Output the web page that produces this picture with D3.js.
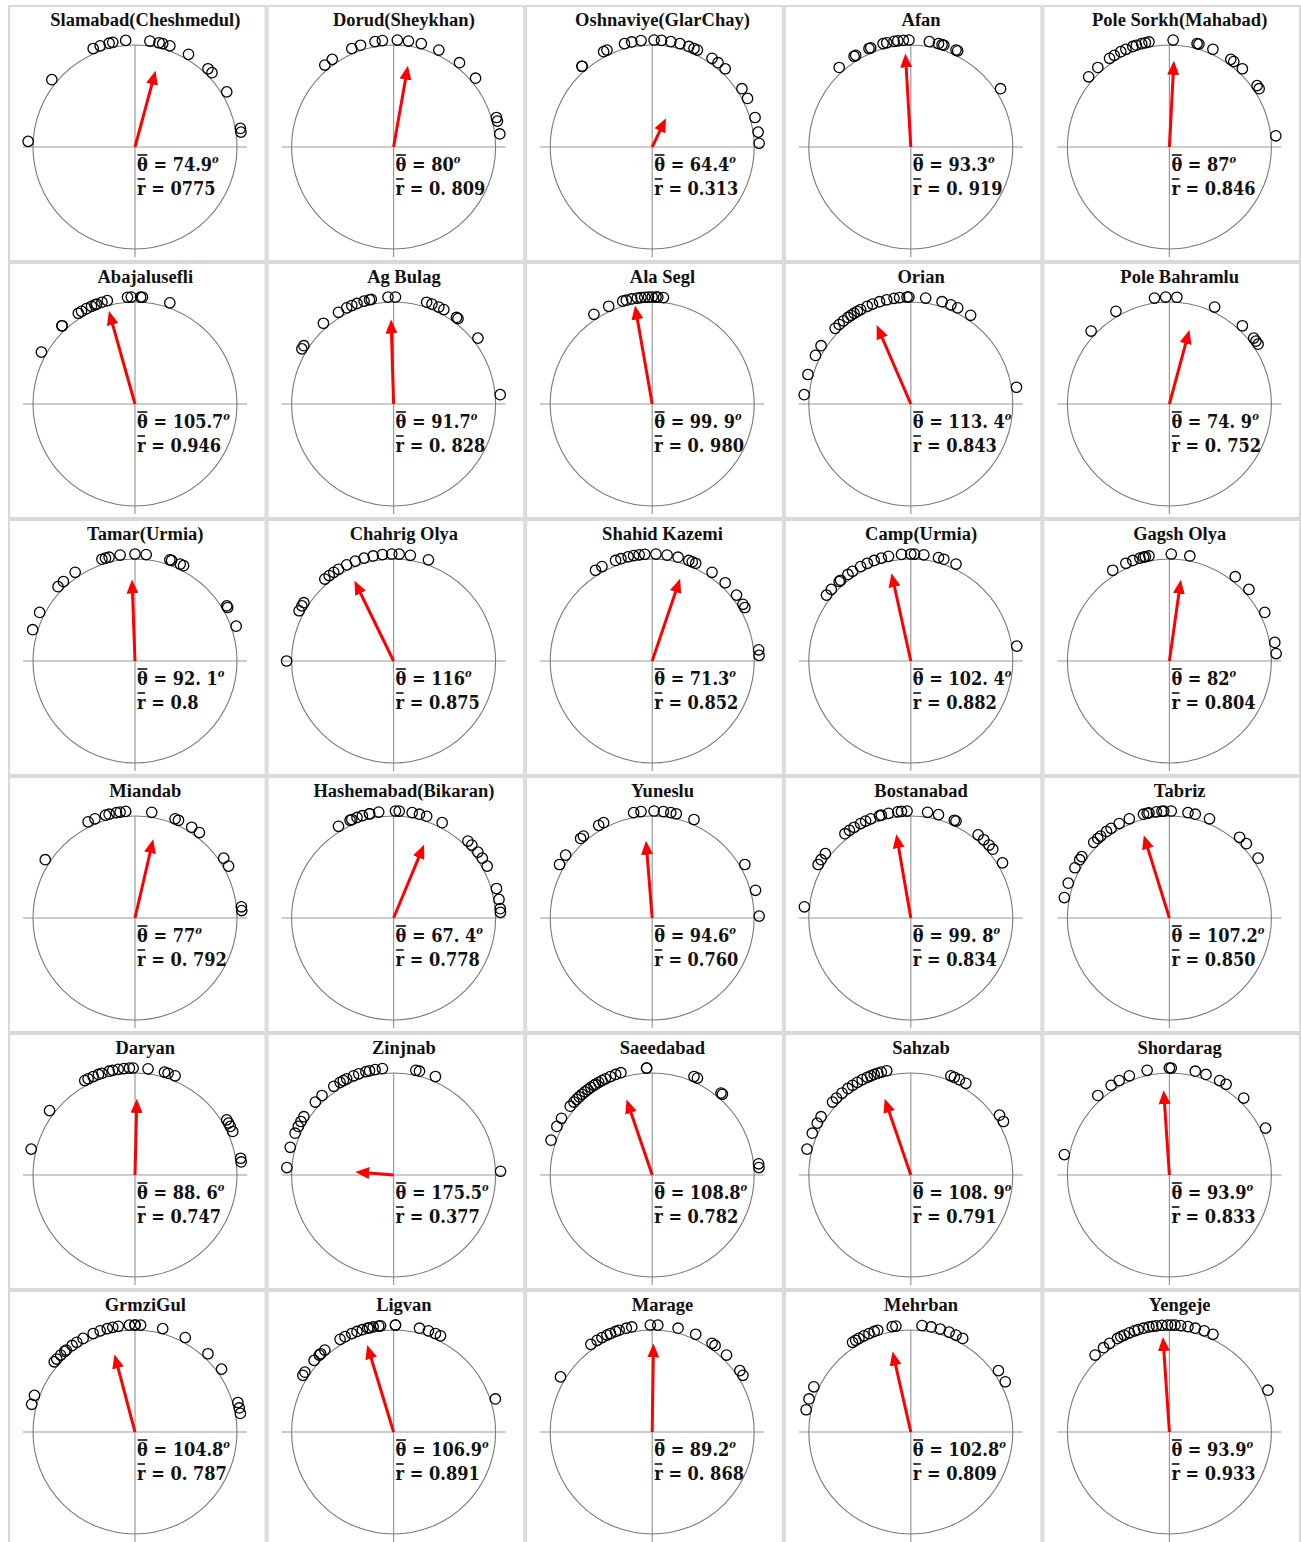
<!DOCTYPE html>
<html>
<head>
<meta charset="utf-8">
<script src="https://cdn.jsdelivr.net/npm/d3@7"></script>
<style>
body{margin:0;background:#fff;}
</style>
</head>
<body>
<svg id="chart" width="1301" height="1542"></svg>
<script>
// station names, grid order (row by row)
const stations = ['Slamabad(Cheshmedul)','Dorud(Sheykhan)','Oshnaviye(GlarChay)','Afan','Pole Sorkh(Mahabad)',
  'Abajalusefli','Ag Bulag','Ala Segl','Orian','Pole Bahramlu',
  'Tamar(Urmia)','Chahrig Olya','Shahid Kazemi','Camp(Urmia)','Gagsh Olya',
  'Miandab','Hashemabad(Bikaran)','Yuneslu','Bostanabad','Tabriz',
  'Daryan','Zinjnab','Saeedabad','Sahzab','Shordarag',
  'GrmziGul','Ligvan','Marage','Mehrban','Yengeje'];
// mean direction (deg) and mean resultant length
const meanTheta = [74.9,80,64.4,93.3,87, 105.7,91.7,99.9,113.4,74.9, 92.1,116,71.3,102.4,82,
  77,67.4,94.6,99.8,107.2, 88.6,175.5,108.8,108.9,93.9, 104.8,106.9,89.2,102.8,93.9];
const meanR = [0.775,0.809,0.313,0.919,0.846, 0.946,0.828,0.980,0.843,0.752, 0.8,0.875,0.852,0.882,0.804,
  0.792,0.778,0.760,0.834,0.850, 0.747,0.377,0.782,0.791,0.833, 0.787,0.891,0.868,0.809,0.933];
// labels as printed
const thetaLabel = ['74.9','80','64.4','93.3','87', '105.7','91.7','99. 9','113. 4','74. 9',
  '92. 1','116','71.3','102. 4','82', '77','67. 4','94.6','99. 8','107.2',
  '88. 6','175.5','108.8','108. 9','93.9', '104.8','106.9','89.2','102.8','93.9'];
const rLabel = ['0775','0. 809','0.313','0. 919','0.846', '0.946','0. 828','0. 980','0.843','0. 752',
  '0.8','0.875','0.852','0.882','0.804', '0. 792','0.778','0.760','0.834','0.850',
  '0.747','0.377','0.782','0.791','0.833', '0. 787','0.891','0. 868','0.809','0.933'];
// observed directions (deg, counter-clockwise from east)
const obsAngles = [
  [177,141,113,109,104,102,95,82,77,75,71,60,47,44,31,10,8],
  [130,125,113,108,100,96,88,82,75,65,52,40,16,14,7],
  [131,131,117,115,105,101,96,89,85,80,75,70,67,65,56,52,47,33,27,16,8,2],
  [132,122,121,113,112,105,103,99,97,94,91,80,75,73,72,65,64,33],
  [139,132,124,121,117,114,110,108,105,103,101,88,75,74,66,55,53,47,35,33,6],
  [151,133,133,122,120,117,114,112,111,108,105,94,92,87,86,71],
  [149,147,131,121,116,113,110,106,103,102,93,89,72,69,65,62,54,53,38,5],
  [123,114,106,104,101,98,96,94,92,90,88,87,84],
  [175,164,153,147,135,132,129,126,124,122,120,118,114,111,107,103,99,96,92,91,82,73,68,64,56,9],
  [137,120,98,92,86,65,47,38,36,34],
  [163,153,136,132,124,108,106,104,98,90,84,71,70,65,63,31,30,19],
  [180,152,149,147,130,127,124,121,116,111,106,101,96,91,87,81,71],
  [122,118,110,107,103,100,97,94,88,82,76,70,68,66,56,47,38,32,30,6,3],
  [142,138,132,131,126,123,118,114,110,106,102,95,90,88,83,75,72,65,8],
  [122,114,110,106,104,103,101,89,79,52,42,27,10,4],
  [147,116,112,106,104,100,98,95,81,68,66,58,53,34,29,6,4],
  [121,114,113,110,107,103,103,98,89,87,80,76,72,63,46,43,38,34,29,16,10,5,3],
  [150,144,132,130,120,117,100,96,89,84,80,77,67,30,15,1],
  [174,150,147,143,128,125,122,118,115,112,107,106,102,97,95,92,81,75,66,65,51,47,43,40,31],
  [169,161,152,147,145,135,132,130,126,123,118,112,104,102,101,97,94,93,89,80,76,68,49,44,34],
  [166,143,118,116,113,110,108,104,102,99,96,93,91,83,74,72,68,31,29,27,24,9,7],
  [176,165,157,153,150,147,137,132,124,120,118,116,112,109,105,103,100,96,78,76,67,2],
  [161,153,148,140,137,135,133,131,129,127,125,123,122,120,118,116,113,110,107,93,93,67,65,50,49,6,4],
  [166,157,151,147,137,134,130,126,123,120,117,114,112,110,108,106,103,68,66,63,59,34,30],
  [169,132,123,118,112,102,90,89,76,70,62,58,46,26],
  [165,160,139,137,134,131,130,126,123,119,113,109,105,102,99,93,90,90,87,75,62,47,36,16,13,10],
  [148,146,138,134,133,130,120,117,113,110,107,104,103,101,98,97,89,89,76,71,67,64,18],
  [149,125,121,118,115,113,110,108,104,101,91,87,76,66,56,54,46,35,32],
  [168,162,155,123,121,119,116,113,110,108,100,98,84,79,74,69,65,61,35,28],
  [134,128,124,119,117,115,112,109,107,104,101,99,97,94,91,89,87,84,80,76,71,66,23]
];

let svg = d3.select('#chart');
let nCol = 5, nRow = 6;
let colX = d3.scaleBand().domain(d3.range(nCol)).range([8, 1301]);
let rowY = d3.scaleBand().domain(d3.range(nRow)).range([5, 5 + 257*nRow]);
let cw = colX.bandwidth(), ch = rowY.bandwidth();
let cx = 127, cy = 142, R = 102;
let rad = d3.scaleLinear().domain([0, 1]).range([0, R]);
function px(deg, len){ return cx + len*Math.cos(deg*Math.PI/180); }
function py(deg, len){ return cy - len*Math.sin(deg*Math.PI/180); }

svg.append('defs').append('marker')
  .attr('id','head').attr('markerUnits','userSpaceOnUse')
  .attr('markerWidth',15).attr('markerHeight',12)
  .attr('refX',6).attr('refY',6).attr('orient','auto')
  .append('path').attr('d','M0,0 L14,6 L0,12 Z').attr('fill','#ff0000');

// a line of "sym = value" with a bar over the symbol
function statLine(g, x, y, sym, val, deg){
  let t = g.append('text').attr('x', x).attr('y', y);
  let s = t.append('tspan').text(sym);
  t.append('tspan').text(' = ' + val);
  if(deg) t.append('tspan').attr('dy',-8).style('font-size','11px').style('font-style','italic').text('o');
  let w = s.node().getComputedTextLength();
  g.append('line').attr('x1', x + 0.5).attr('x2', x + w - 0.5).attr('y1', y - 16).attr('y2', y - 16)
    .attr('stroke','#111').attr('stroke-width',1.6);
}

stations.forEach(function(name, i){
  let c = i % nCol, r = Math.floor(i / nCol);
  let g = svg.append('g').attr('transform', `translate(${colX(c)},${rowY(r)})`);

  g.append('rect').attr('x',1).attr('y',1).attr('width',cw-2).attr('height',ch-2)
    .attr('fill','#fff').attr('stroke','#d9d9d9').attr('stroke-width',2);

  g.append('text').attr('x', cw/2 + 8).attr('y', 21)
    .attr('text-anchor','middle')
    .style('font-family','"Liberation Serif", serif').style('font-weight','bold')
    .style('font-size','18.5px').attr('fill','#111').text(name);

  // axes
  g.append('line').attr('x1',cx-R-10).attr('x2',cx+R+10).attr('y1',cy).attr('y2',cy)
    .attr('stroke','#9a9a9a').attr('stroke-width',1.2);
  g.append('line').attr('x1',cx).attr('x2',cx).attr('y1',cy-R).attr('y2',cy+R+8)
    .attr('stroke','#9a9a9a').attr('stroke-width',1.2);
  g.append('circle').attr('cx',cx).attr('cy',cy).attr('r',R)
    .attr('fill','none').attr('stroke','#7a7a7a').attr('stroke-width',1.1);

  g.selectAll('circle.obs').data(obsAngles[i]).join('circle').attr('class','obs')
    .attr('cx', d => px(d, R + 5)).attr('cy', d => py(d, R + 5)).attr('r', 5.2)
    .attr('fill','none').attr('stroke','#000').attr('stroke-width',1.3);

  let len = rad(meanR[i]);
  g.append('line')
    .attr('x1',cx).attr('y1',cy)
    .attr('x2',px(meanTheta[i], len-8)).attr('y2',py(meanTheta[i], len-8))
    .attr('stroke','#ff0000').attr('stroke-width',3)
    .attr('marker-end','url(#head)');

  let st = g.append('g')
    .style('font-family','"DejaVu Serif Condensed", "DejaVu Serif", serif')
    .style('font-weight','bold').style('font-size','18px').attr('fill','#111');
  statLine(st, cx+2, cy+24, '\u03B8', thetaLabel[i], true);
  statLine(st, cx+2, cy+48, 'r', rLabel[i], false);
});
</script>
</body>
</html>
